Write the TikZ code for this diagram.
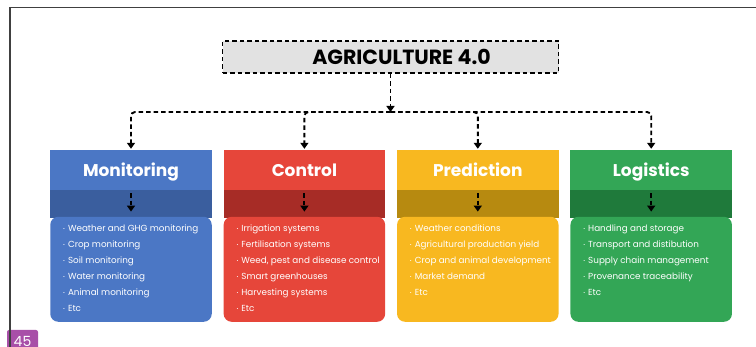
\documentclass[tikz,border=0pt]{standalone}
\usepackage{fontspec}
\setmainfont{Poppins}
\usetikzlibrary{arrows.meta,positioning}

\definecolor{monhead}{HTML}{4B77C5}
\definecolor{monband}{HTML}{3A5E9E}
\definecolor{ctlhead}{HTML}{E6463A}
\definecolor{ctlband}{HTML}{A72C26}
\definecolor{prdhead}{HTML}{F8B820}
\definecolor{prdband}{HTML}{B78A10}
\definecolor{loghead}{HTML}{33A656}
\definecolor{logband}{HTML}{1F7A3B}
\definecolor{agrigray}{HTML}{E2E2E2}
\definecolor{pagepurple}{HTML}{A84FA8}

\newcommand\itm[1]{\mbox{\makebox[11pt][r]{\raisebox{2.5pt}{.}\hspace{3pt}}#1}\par}

\tikzset{
  head/.style={minimum width=161.5pt, minimum height=40pt, inner sep=0pt, text=white,
    text height=17pt, text depth=3pt, font=\bfseries\fontsize{17}{20}\selectfont},
  band/.style={minimum width=161.5pt, minimum height=28pt, inner sep=0pt},
  items/.style={rounded corners=8pt, inner xsep=6.75pt, inner ysep=8.5pt, text=white,
    font=\fontsize{8.8}{16}\selectfont},
  flow/.style={dashed, dash pattern=on 4.5pt off 3pt, line width=1.9pt,
    -{Triangle[length=6pt,width=8pt]}},
  topbox/.style={draw, dashed, dash pattern=on 4.5pt off 3pt, line width=1.9pt,
    fill=agrigray, minimum width=336pt, minimum height=32pt,
    font=\bfseries\fontsize{20.5}{22}\selectfont}
}

\begin{document}
\begin{tikzpicture}[x=1pt,y=-1pt]
    \useasboundingbox (0,0) rectangle (756,347);
    % page number and frame
    \node[fill=pagepurple, rounded corners=2pt, text=white, minimum width=31pt,
      minimum height=22pt, inner sep=0pt, font=\fontsize{14}{14}\selectfont] (page) at (22.5,341) {45};
    \draw[line width=1.5pt, black!75] (10,347) -- (10,7.5) -- (756,7.5);

    \node[topbox] (agri) at (390.5,57) {\hspace*{22pt}AGRICULTURE 4.0};
    \coordinate (split) at (390.5,112);

    % columns
    \node[head, fill=monhead] (mon) at (131,170) {Monitoring};
    \node[head, fill=ctlhead, right=11.5pt of mon] (ctl) {Control};
    \node[head, fill=prdhead, right=11.5pt of ctl] (prd) {Prediction};
    \node[head, fill=loghead, right=11.5pt of prd] (log) {Logistics};

    \node[band, fill=monband, below=0pt of mon] (monband) {};
    \node[band, fill=ctlband, below=0pt of ctl] (ctlband) {};
    \node[band, fill=prdband, below=0pt of prd] (prdband) {};
    \node[band, fill=logband, below=0pt of log] (logband) {};

    \node[items, fill=monhead, below=-2pt of monband] (monlist) {\parbox[c][88pt][t]{148pt}{%
      \itm{Weather and GHG monitoring}\itm{Crop monitoring}\itm{Soil monitoring}%
      \itm{Water monitoring}\itm{Animal monitoring}\itm{Etc}}};
    \node[items, fill=ctlhead, below=-2pt of ctlband] (ctllist) {\parbox[c][88pt][t]{148pt}{%
      \itm{Irrigation systems}\itm{Fertilisation systems}\itm{Weed, pest and disease control}%
      \itm{Smart greenhouses}\itm{Harvesting systems}\itm{Etc}}};
    \node[items, fill=prdhead, below=-2pt of prdband] (prdlist) {\parbox[c][88pt][t]{148pt}{%
      \itm{Weather conditions}\itm{Agricultural production yield}\itm{Crop and animal development}%
      \itm{Market demand}\itm{Etc}}};
    \node[items, fill=loghead, below=-2pt of logband] (loglist) {\parbox[c][88pt][t]{148pt}{%
      \itm{Handling and storage}\itm{Transport and distibution}\itm{Supply chain management}%
      \itm{Provenance traceability}\itm{Etc}}};

    % connectors
    \draw[flow] (agri.south) -- (split);
    \draw[flow, rounded corners=4pt, shorten >=1pt] (split) -| (mon.north);
    \draw[flow, rounded corners=4pt, shorten >=1pt] (split) -| (ctl.north);
    \draw[flow, rounded corners=4pt, shorten >=1pt] (split) -| (prd.north);
    \draw[flow, rounded corners=4pt, shorten >=1pt] (split) -| (log.north);
    \draw[flow, shorten <=3pt, shorten >=7pt] (monband.north) -- (monband.south);
    \draw[flow, shorten <=3pt, shorten >=7pt] (ctlband.north) -- (ctlband.south);
    \draw[flow, shorten <=3pt, shorten >=7pt] (prdband.north) -- (prdband.south);
    \draw[flow, shorten <=3pt, shorten >=7pt] (logband.north) -- (logband.south);
\end{tikzpicture}
\end{document}
